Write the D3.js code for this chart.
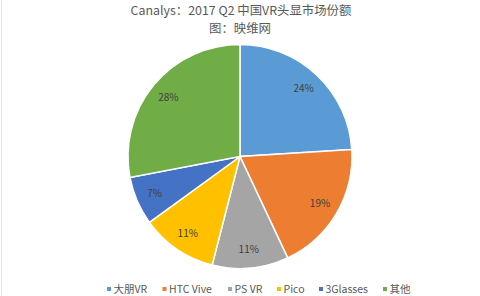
<!DOCTYPE html>
<html><head><meta charset="utf-8">
<script src="https://cdn.jsdelivr.net/npm/d3@7"></script>
<style>
html,body{margin:0;padding:0;background:#fff;}
svg{display:block;font-family:"Noto Sans CJK SC","Open Sans",sans-serif;}
</style></head>
<body><svg id="c" width="480" height="296"></svg>
<script>
const categories = ["大朋VR","HTC Vive","PS VR","Pico","3Glasses","其他"];
const values = [24,19,11,11,7,28];
const colors = ["#5B9BD5","#ED7D31","#A5A5A5","#FFC000","#4472C4","#70AD47"];
const title = "Canalys：2017 Q2 中国VR头显市场份额";
const subtitle = "图：映维网";

const svg = d3.select("#c");
const cx = 240, cy = 156.5, r = 112;

svg.append("line").attr("x1",1.5).attr("x2",1.5).attr("y1",0).attr("y2",296)
  .attr("stroke","#e4e4e4").attr("stroke-width",1);

svg.append("text").attr("x",241).attr("y",14.5).attr("text-anchor","middle")
  .attr("font-size",12.4).attr("fill","#595959").text(title);
svg.append("text").attr("x",240).attr("y",32.5).attr("text-anchor","middle")
  .attr("font-size",12.4).attr("fill","#595959").text(subtitle);

const pie = d3.pie().sort(null).value(d=>d)(values);
const arc = d3.arc().innerRadius(0).outerRadius(r);
const labelArc = d3.arc().innerRadius(r*0.83).outerRadius(r*0.83);
const total = d3.sum(values);

const g = svg.append("g").attr("transform",`translate(${cx},${cy})`);
g.selectAll("path").data(pie).join("path")
  .attr("d",arc).attr("fill",(d,i)=>colors[i])
  .attr("stroke","#fff").attr("stroke-width",1.5);
g.selectAll("text").data(pie).join("text")
  .attr("transform",d=>`translate(${labelArc.centroid(d)})`)
  .attr("text-anchor","middle").attr("dy","0.35em")
  .attr("font-size",10).attr("fill","#404040")
  .text(d=>Math.round(d.value/total*100)+"%");

// legend
const legendX = [107,162.5,228,277,319,383];
const lg = svg.append("g");
categories.forEach((c,i)=>{
  lg.append("rect").attr("x",legendX[i]).attr("y",287).attr("width",4).attr("height",4).attr("fill",colors[i]);
  lg.append("text").attr("x",legendX[i]+6.5).attr("y",292.5).attr("font-size",10.5)
    .attr("fill","#595959").text(c);
});
</script></body></html>
